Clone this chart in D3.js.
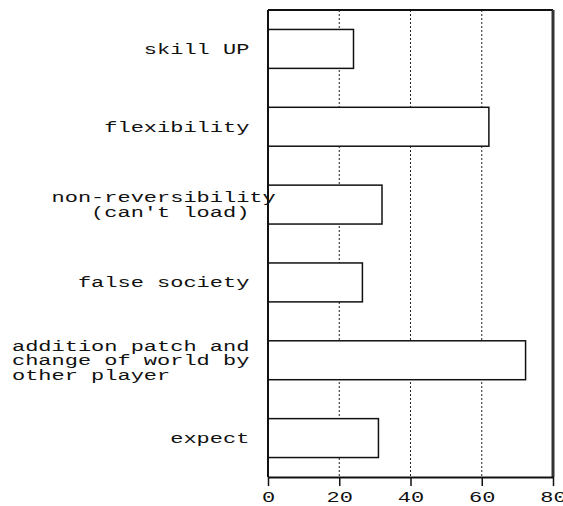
<!DOCTYPE html>
<html>
<head>
<meta charset="utf-8">
<script src="https://cdn.jsdelivr.net/npm/d3@7"></script>
<style>
  html, body { margin: 0; padding: 0; background: #fff; }
  svg { display: block; }
  text { font-family: "Liberation Mono", "DejaVu Sans Mono", monospace; fill: #111; }
</style>
</head>
<body>
<div class="chartContainer"></div>
<script>
// category labels, one entry per bar, split in lines (monospace columns)
const categories = [
  ["skill UP"],
  ["flexibility"],
  ["   non-reversibility", "      (can't load)"],
  ["false society"],
  ["addition patch and", "change of world by", "other player      "],
  ["expect"]
];
const values = [24, 62, 32, 26.5, 72.3, 31];
const xTicks = [0, 20, 40, 60, 80];
const gridTicks = [20, 40, 60];

const width = 563, height = 506;
const margins = { top: 10, right: 10, bottom: 29, left: 268 };
const fontSize = 14.5;
const sx = 1.517;          // wide courier look
const labelCols = 18;
const labelX = 12;
const lineGap = 14.5;

const svg = d3.select('.chartContainer')
  .append('svg')
  .attr('width', width)
  .attr('height', height);

const xScale = d3.scaleLinear()
  .domain([0, 80])
  .range([margins.left, width - margins.right]);

const yScale = d3.scaleBand()
  .domain(d3.range(categories.length))
  .range([margins.top, height - margins.bottom])
  .paddingInner(0.5)
  .paddingOuter(0.25);

const plotTop = margins.top, plotBottom = height - margins.bottom;

// dotted grid
svg.append('g').selectAll('line')
  .data(gridTicks)
  .enter()
  .append('line')
  .attr('x1', d => xScale(d)).attr('x2', d => xScale(d))
  .attr('y1', plotTop).attr('y2', plotBottom)
  .attr('stroke', '#222')
  .attr('stroke-width', 1)
  .attr('stroke-dasharray', '2,2');

// bars
svg.append('g').selectAll('rect')
  .data(values)
  .enter()
  .append('rect')
  .attr('x', xScale(0))
  .attr('y', (d, i) => yScale(i))
  .attr('width', d => xScale(d) - xScale(0))
  .attr('height', yScale.bandwidth())
  .attr('fill', '#fff')
  .attr('stroke', '#111')
  .attr('stroke-width', 1.5);

// frame
const frame = svg.append('g').attr('stroke', '#111');
frame.append('line').attr('x1', xScale(0)).attr('x2', xScale(80)).attr('y1', plotTop).attr('y2', plotTop).attr('stroke-width', 2);
frame.append('line').attr('x1', xScale(80)).attr('x2', xScale(80)).attr('y1', plotTop).attr('y2', plotBottom).attr('stroke-width', 3).attr('stroke', '#333');
frame.append('line').attr('x1', xScale(0)).attr('x2', xScale(0)).attr('y1', plotTop).attr('y2', plotBottom).attr('stroke-width', 2);

// x axis
const xAxis = svg.append('g')
  .attr('transform', `translate(0,${plotBottom})`)
  .call(d3.axisBottom(xScale).tickValues(xTicks).tickSize(9).tickPadding(4).tickSizeOuter(0));
xAxis.select('.domain').attr('stroke', '#111').attr('stroke-width', 2);
xAxis.selectAll('.tick line').attr('stroke', '#111').attr('stroke-width', 1.5);
xAxis.selectAll('.tick text')
  .attr('font-size', fontSize)
  .attr('font-family', '"Liberation Mono", monospace')
  .attr('fill', '#111')
  .attr('y', 0)
  .attr('dy', 0)
  .attr('transform', `translate(0,24.5) scale(${sx},1)`);

// category labels
const labels = svg.append('g');
categories.forEach((lines, i) => {
  const cy = yScale(i) + yScale.bandwidth() / 2;
  lines.forEach((line, j) => {
    const txt = line.length < labelCols ? line.padStart(labelCols, ' ') : line;
    const baseline = cy + (j - (lines.length - 1) / 2) * lineGap + 5;
    labels.append('text')
      .attr('xml:space', 'preserve')
      .style('white-space', 'pre')
      .attr('font-size', fontSize)
      .attr('transform', `translate(${labelX},${baseline}) scale(${sx},1)`)
      .text(txt);
  });
});
</script>
</body>
</html>
